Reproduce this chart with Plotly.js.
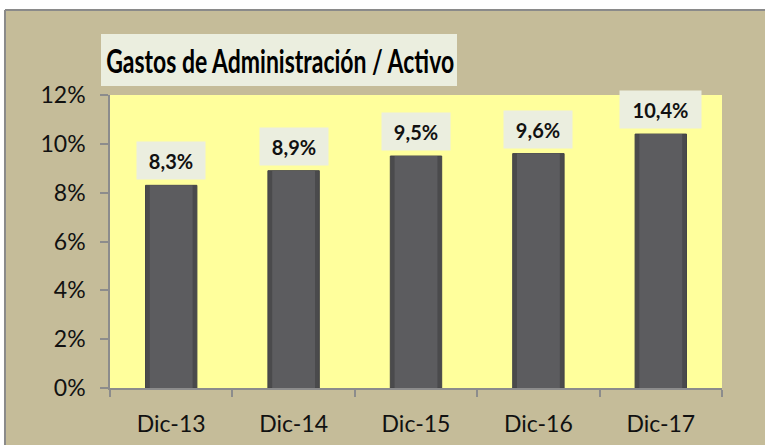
<!DOCTYPE html>
<html>
<head>
<meta charset="utf-8">
<script src="https://cdn.plot.ly/plotly-3.0.1.min.js"></script>
<style>
html,body{margin:0;padding:0;background:#fff;}
#chart{width:765px;height:445px;}
#chart .g-gtitle text{transform-box:fill-box;transform-origin:center;transform:scaleY(1.45);}
</style>
</head>
<body>
<div id="chart"></div>
<script>
var categories = ["Dic-13", "Dic-14", "Dic-15", "Dic-16", "Dic-17"];
var values = [8.3, 8.9, 9.5, 9.6, 10.4];
var yTickVals = [0, 2, 4, 6, 8, 10, 12];
var yTickText = ["0%", "2%", "4%", "6%", "8%", "10%", "12%"];
var titleText = "Gastos de Administración / Activo";

var FONT = "Lato, 'Open Sans', sans-serif";

function fmt(v) { return v.toFixed(1).replace('.', ',') + '%'; }

var traces = [
  {
    type: 'bar', x: categories, y: values, width: 0.42,
    marker: { color: '#4a4a4c', line: { color: '#444446', width: 1 } },
    hoverinfo: 'skip', showlegend: false
  },
  {
    type: 'bar', x: categories, y: values, width: 0.35,
    marker: { color: '#5c5c5f', line: { width: 0 } },
    text: values.map(fmt), hoverinfo: 'x+text', textposition: 'none', showlegend: false
  }
];

var annotations = categories.map(function (c, i) {
  var t = fmt(values[i]);
  return {
    x: c, y: values[i], xref: 'x', yref: 'y',
    text: '<b>' + t + '</b>', showarrow: false,
    yanchor: 'bottom', yshift: 5,
    bgcolor: '#ebeedf', borderpad: 6,
    width: t.length * 13 + 4, height: 25,
    font: { family: FONT, size: 20, color: '#111' }
  };
});

var layout = {
  width: 765, height: 445,
  margin: { l: 110, r: 43, t: 95, b: 57 },
  paper_bgcolor: '#c5bc99',
  plot_bgcolor: '#ffff9c',
  barmode: 'overlay',
  title: {
    text: '<b>' + titleText + '</b>',
    xref: 'paper', x: 0.278, xanchor: 'center',
    yref: 'container', y: 0.862, yanchor: 'middle',
    font: { family: FONT, size: 23, color: '#000' }
  },
  xaxis: {
    type: 'category',
    showline: true, linecolor: '#8c8c8c', linewidth: 1.5,
    ticks: 'outside', tickson: 'boundaries', ticklen: 7, tickcolor: '#8c8c8c', tickwidth: 1.5,
    ticklabelstandoff: 15,
    tickfont: { family: FONT, size: 23, color: '#111' },
    showgrid: false, zeroline: false, fixedrange: true
  },
  yaxis: {
    range: [0, 12], tickvals: yTickVals, ticktext: yTickText,
    showline: true, linecolor: '#8c8c8c', linewidth: 1.5,
    ticks: 'outside', ticklen: 8, tickcolor: '#8c8c8c', tickwidth: 1.5,
    ticklabelstandoff: 10,
    tickfont: { family: FONT, size: 23, color: '#111' },
    showgrid: false, zeroline: false, fixedrange: true
  },
  annotations: annotations,
  shapes: [
    { type: 'rect', xref: 'paper', yref: 'paper', x0: -0.0147, x1: 0.567, y0: 1.0307, y1: 1.208,
      fillcolor: '#ebeedf', line: { width: 0 }, layer: 'below' },
    { type: 'rect', xref: 'paper', yref: 'paper', x0: -0.19, x1: 1.1, y0: 1.2901, y1: 1.34,
      fillcolor: '#ffffff', line: { width: 0 } },
    { type: 'rect', xref: 'paper', yref: 'paper', x0: -0.19, x1: -0.1716, y0: -0.2, y1: 1.34,
      fillcolor: '#ffffff', line: { width: 0 } },
    { type: 'line', xref: 'paper', yref: 'paper', x0: -0.1716, x1: 1.1, y0: 1.2901, y1: 1.2901,
      line: { color: '#8a8a8a', width: 2 } },
    { type: 'line', xref: 'paper', yref: 'paper', x0: -0.1716, x1: -0.1716, y0: -0.2, y1: 1.2901,
      line: { color: '#8a8a8a', width: 2 } }
  ]
};

Plotly.newPlot('chart', traces, layout, { displayModeBar: false });
</script>
</body>
</html>
